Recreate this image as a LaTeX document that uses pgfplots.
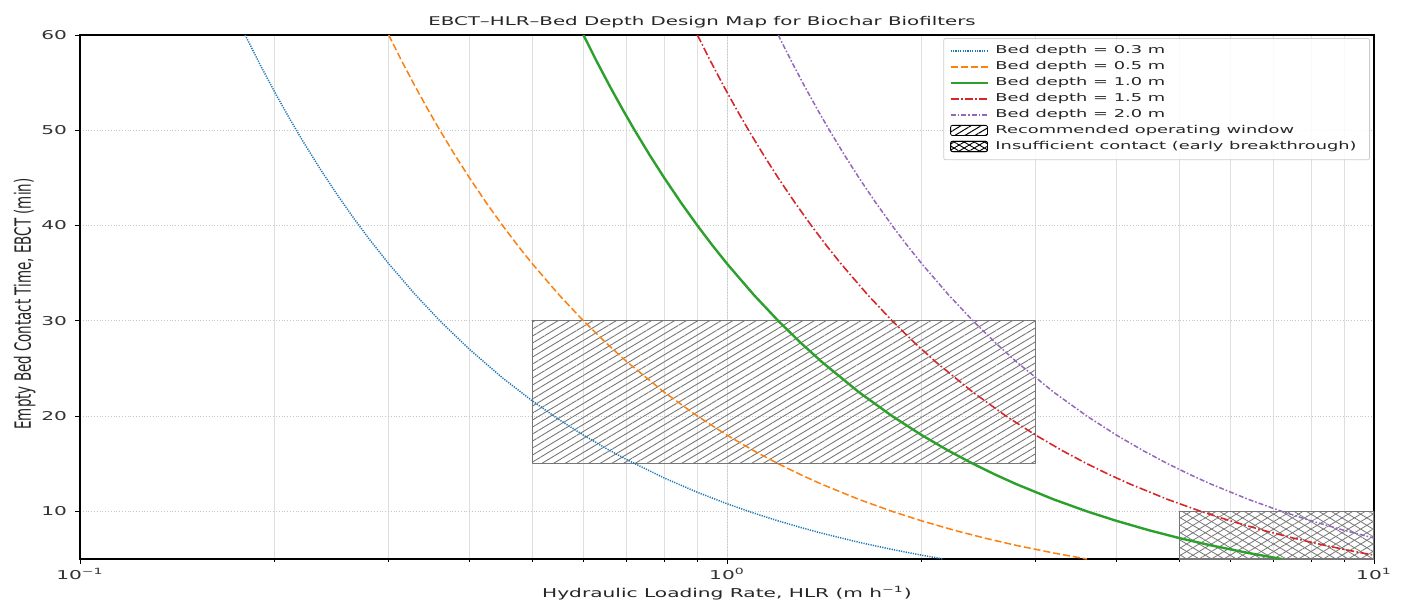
\documentclass[border=0pt]{standalone}
\usepackage{pgfplots}
\pgfplotsset{compat=1.18}
\usetikzlibrary{patterns.meta}
\usepackage{fontspec}
\setmainfont{DejaVu Sans}[FakeStretch=1.65]
\newfontfamily\vfont{DejaVu Sans}[FakeStretch=0.6]
\definecolor{cblue}{HTML}{1F77B4}
\definecolor{corange}{HTML}{FF7F0E}
\definecolor{cgreen}{HTML}{2CA02C}
\definecolor{cred}{HTML}{D62728}
\definecolor{cpurple}{HTML}{9467BD}
\definecolor{hatchgray}{HTML}{777777}
\begin{document}
\begin{tikzpicture}
\useasboundingbox (-40pt,-20.5pt) rectangle (661pt,279.5pt);
\begin{axis}[
  scale only axis, width=647pt, height=262pt,
  xmode=log, xmin=0.1, xmax=10, ymin=5, ymax=60,
  xtick={0.1,1,10},
  xticklabels={10\textsuperscript{−1},10\textsuperscript{0},10\textsuperscript{1}},
  ytick={10,20,30,40,50,60},
  tick pos=left,
  /pgf/number format/assume math mode=true,
  tick label style={font=\fontsize{6.1}{7}\selectfont, text=black!80},
  xticklabel style={yshift=1.5pt},
  yticklabel style={xshift=-0.5pt},
  tick align=outside, major tick length=2.5pt, minor tick length=1.5pt,
  tick style={black, line width=0.4pt},
  xmajorgrids, xminorgrids, ymajorgrids,
  major grid style={densely dotted, gray!45, line width=0.4pt},
  minor grid style={solid, gray!25, line width=0.4pt},
  axis line style={black, line width=0.6pt},
  title={EBCT–HLR–Bed Depth Design Map for Biochar Biofilters},
  title style={font=\fontsize{6.0}{7}\selectfont, yshift=-6pt, xshift=-12.5pt, text=black!85},
  xlabel={Hydraulic Loading Rate, HLR (m h\textsuperscript{−1})},
  xlabel style={font=\fontsize{6.1}{7}\selectfont, yshift=3.5pt, text=black!85},
  ylabel={\vfont Empty Bed Contact Time, EBCT (min)},
  ylabel style={font=\fontsize{11.2}{13}\selectfont, yshift=-4pt, xshift=-3.5pt, text=black!85},
  legend style={at={(1,1)}, anchor=north east, xshift=-2pt, yshift=-1.5pt,
    font=\fontsize{5.4}{6}\selectfont, draw=gray!40, rounded corners=1pt,
    fill=white, fill opacity=0.85, text opacity=1, draw opacity=1, row sep=-1.6pt,
    inner xsep=3pt, inner ysep=1.5pt, text=black!85,
    nodes={inner xsep=3.5pt}},
  legend cell align=left,
  legend image code/.code={\draw[#1, line width=0.9pt, dash phase=0pt] (0cm,0cm) -- (0.65cm,0cm);},
  every axis plot/.append style={line join=round},
]
% Recommended window
\addplot[draw=hatchgray, line width=0.6pt,
  pattern={Lines[angle=31,distance=3pt,line width=0.45pt]}, pattern color=hatchgray,
  forget plot] coordinates {(0.5,15) (3,15) (3,30) (0.5,30)} -- cycle;
% Insufficient contact
\addplot[draw=hatchgray, line width=0.6pt,
  pattern={Lines[angle=31,distance=3.2pt,line width=0.4pt]}, pattern color=hatchgray,
  postaction={pattern={Lines[angle=-31,distance=3.2pt,line width=0.4pt]}, pattern color=hatchgray},
  forget plot] coordinates {(5,5) (10,5) (10,10) (5,10)} -- cycle;
% Bed depth 0.3 m
\addplot[color=cblue, line width=0.75pt, dash pattern=on 0.6pt off 0.6pt] coordinates {
(0.18,60) (0.19,56.842) (0.2,54) (0.21,51.429) (0.22,49.091) (0.235,45.957) (0.25,43.2) (0.265,40.755) (0.28,38.571) (0.3,36) (0.33,32.727) (0.36,30) (0.4,27) (0.45,24) (0.5,21.6) (0.55,19.636) (0.6,18) (0.65,16.615) (0.7,15.429) (0.8,13.5) (0.9,12) (1.0,10.8) (1.1,9.818) (1.2,9) (1.3,8.308) (1.4,7.714) (1.6,6.75) (1.8,6) (2.0,5.4) (2.16,5)};
\addlegendentry{Bed depth = 0.3 m}
% Bed depth 0.5 m
\addplot[color=corange, line width=0.75pt, dash pattern=on 3.5pt off 1.5pt] coordinates {
(0.3,60) (0.315,57.143) (0.33,54.545) (0.345,52.174) (0.36,50) (0.38,47.368) (0.4,45) (0.425,42.353) (0.45,40) (0.475,37.895) (0.5,36) (0.55,32.727) (0.6,30) (0.65,27.692) (0.7,25.714) (0.8,22.5) (0.9,20) (1.0,18) (1.1,16.364) (1.2,15) (1.3,13.846) (1.4,12.857) (1.6,11.25) (1.8,10) (2.0,9) (2.25,8) (2.5,7.2) (2.8,6.429) (3.2,5.625) (3.6,5)};
\addlegendentry{Bed depth = 0.5 m}
% Bed depth 1.0 m
\addplot[color=cgreen, line width=1.2pt] coordinates {
(0.6,60) (0.63,57.143) (0.66,54.545) (0.69,52.174) (0.72,50) (0.76,47.368) (0.8,45) (0.85,42.353) (0.9,40) (0.95,37.895) (1.0,36) (1.1,32.727) (1.2,30) (1.3,27.692) (1.4,25.714) (1.6,22.5) (1.8,20) (2.0,18) (2.2,16.364) (2.4,15) (2.6,13.846) (2.8,12.857) (3.2,11.25) (3.6,10) (4.0,9) (4.5,8) (5.0,7.2) (5.6,6.429) (6.4,5.625) (7.2,5)};
\addlegendentry{Bed depth = 1.0 m}
% Bed depth 1.5 m
\addplot[color=cred, line width=0.8pt, dash pattern=on 4pt off 1.2pt on 0.8pt off 1.2pt] coordinates {
(0.9,60) (0.945,57.143) (0.99,54.545) (1.035,52.174) (1.08,50) (1.14,47.368) (1.2,45) (1.275,42.353) (1.35,40) (1.425,37.895) (1.5,36) (1.65,32.727) (1.8,30) (1.95,27.692) (2.1,25.714) (2.4,22.5) (2.7,20) (3.0,18) (3.3,16.364) (3.6,15) (3.9,13.846) (4.2,12.857) (4.8,11.25) (5.4,10) (6.0,9) (6.75,8) (7.5,7.2) (8.4,6.429) (9.2,5.870) (10,5.4)};
\addlegendentry{Bed depth = 1.5 m}
% Bed depth 2.0 m
\addplot[color=cpurple, line width=0.75pt, dash pattern=on 2.5pt off 1pt on 0.8pt off 1pt] coordinates {
(1.2,60) (1.26,57.143) (1.32,54.545) (1.38,52.174) (1.44,50) (1.52,47.368) (1.6,45) (1.7,42.353) (1.8,40) (1.9,37.895) (2.0,36) (2.2,32.727) (2.4,30) (2.6,27.692) (2.8,25.714) (3.2,22.5) (3.6,20) (4.0,18) (4.4,16.364) (4.8,15) (5.2,13.846) (5.6,12.857) (6.4,11.25) (7.2,10) (8.0,9) (9.0,8) (10,7.2)};
\addlegendentry{Bed depth = 2.0 m}
% legend entries for the windows
\addlegendimage{legend image code/.code={\fill[pattern={Lines[angle=31,distance=2.6pt,line width=0.5pt]}, pattern color=black] (0cm,-0.08cm) rectangle (0.65cm,0.1cm);}}
\addlegendentry{Recommended operating window}
\addlegendimage{legend image code/.code={\fill[pattern={Lines[angle=31,distance=2.6pt,line width=0.45pt]}, pattern color=black] (0cm,-0.08cm) rectangle (0.65cm,0.1cm); \fill[pattern={Lines[angle=-31,distance=2.6pt,line width=0.45pt]}, pattern color=black] (0cm,-0.08cm) rectangle (0.65cm,0.1cm);}}
\addlegendentry{Insufficient contact (early breakthrough)}
\end{axis}
\end{tikzpicture}
\end{document}
